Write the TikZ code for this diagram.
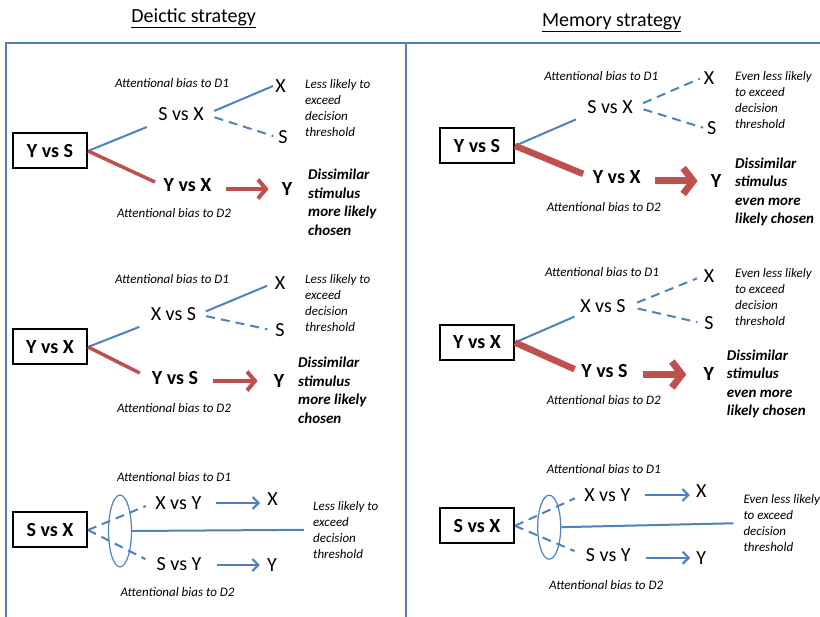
\documentclass[tikz,border=0pt]{standalone}
\usepackage{fontspec}
\setmainfont{Carlito}
\usetikzlibrary{arrows.meta}
\usetikzlibrary{positioning}
\usetikzlibrary{shapes.geometric}
\definecolor{lineblue}{RGB}{79,129,189}
\definecolor{linered}{RGB}{192,80,77}

\begin{document}
\begin{tikzpicture}[x=1pt,y=-1pt,every node/.style={inner sep=2pt}]
	\tikzstyle{box}=[draw,line width=2pt,minimum width=74pt,minimum height=35pt,font=\bfseries\fontsize{20}{24}\selectfont]
	\tikzstyle{pair}=[font=\fontsize{20}{24}\selectfont]
	\tikzstyle{bpair}=[font=\bfseries\fontsize{20}{24}\selectfont]
	\tikzstyle{bias}=[font=\itshape\fontsize{13}{16}\selectfont]
	\tikzstyle{note}=[anchor=north west,inner sep=0pt,align=left,font=\itshape\fontsize{13}{16}\selectfont]
	\tikzstyle{verdict}=[anchor=north west,inner sep=0pt,align=left,font=\bfseries\itshape\fontsize{15}{18.5}\selectfont]
	\tikzstyle{title}=[anchor=base,font=\fontsize{20}{24}\selectfont]
	\tikzstyle{lens}=[ellipse,draw=lineblue,line width=1.2pt,inner sep=0pt,minimum width=23pt]
	\tikzstyle{bline}=[draw=lineblue,line width=2pt]
	\tikzstyle{bdash}=[bline,dash pattern=on 9pt off 6pt]
	\tikzstyle{rline}=[draw=linered,line width=3.5pt]
	\tikzstyle{rthick}=[draw=linered,line width=6.5pt]
	\tikzstyle{rarrow}=[draw=linered,line width=4pt,-{Straight Barb[length=8pt,width=19pt]}]
	\tikzstyle{rbigarrow}=[draw=linered,line width=7pt,-{Straight Barb[length=10pt,width=26pt]}]
	\tikzstyle{barrow}=[bline,line width=2.2pt,-{Straight Barb[length=6pt,width=12pt]}]
	\tikzstyle{frame}=[draw=lineblue,line width=2.4pt]

	\useasboundingbox (0,0) rectangle (820,617);

	% titles and frame
	\node[title] (tD) at (193.7,22.7) {\underline{Deictic strategy}};
	\node[title] (tM) at (611.7,26.7) {\underline{Memory strategy}};
	\draw[frame] (820,43) -- (6,43) -- (6,625);
	\draw[frame] (406,43) -- (406,625);

	% deictic, Y vs S
	\node[box]     (aB)  at (50,151)     {Y vs S};
	\node[pair]    (aP1) at (181,114.5)  {S vs X};
	\node[bpair]   (aP2) at (187.5,185)  {Y vs X};
	\node[pair]    (aX)  at (280.5,86)   {X};
	\node[pair]    (aS)  at (283,137)    {S};
	\node[bpair]   (aY)  at (287,189)    {Y};
	\node[bias]    (aD1) at (172,83)     {Attentional bias to D1};
	\node[bias]    (aD2) at (174,213)    {Attentional bias to D2};
	\node[note]    (aN)  at (305,79)     {Less likely to\\exceed\\decision\\threshold};
	\node[verdict] (aV)  at (308,169)    {Dissimilar\\stimulus\\more likely\\chosen};
	\draw[bline,shorten >=10pt] (aB.east) -- (aP1.south west);
	\draw[rline,shorten >=7pt] (aB.east) -- (aP2.west);
	\draw[bline,shorten <=9pt] (aP1.east) -- (aX.west);
	\draw[bdash,shorten <=9pt,shorten >=3pt] (aP1.east) -- (aS.west);
	\draw[rarrow,shorten <=12pt,shorten >=11pt] (aP2.east |- aY) -- (aY.west);

	% deictic, Y vs X
	\node[box]     (bB)  at (50,347)     {Y vs X};
	\node[pair]    (bP1) at (173.5,314.5) {X vs S};
	\node[bpair]   (bP2) at (175,378)    {Y vs S};
	\node[pair]    (bX)  at (280,283.5)  {X};
	\node[pair]    (bS)  at (280,330.5)  {S};
	\node[bpair]   (bY)  at (279,381)    {Y};
	\node[bias]    (bD1) at (172,279)    {Attentional bias to D1};
	\node[bias]    (bD2) at (174,408)    {Attentional bias to D2};
	\node[note]    (bN)  at (305,274)    {Less likely to\\exceed\\decision\\threshold};
	\node[verdict] (bV)  at (298,357)    {Dissimilar\\stimulus\\more likely\\chosen};
	\draw[bline,shorten >=10pt] (bB.east) -- (bP1.south west);
	\draw[rline,shorten >=11pt] (bB.east) -- (bP2.west);
	\draw[bline,shorten <=8pt,shorten >=6pt] (bP1.east) -- (bX.west);
	\draw[bdash,shorten <=8pt,shorten >=6pt] (bP1.east) -- (bS.west);
	\draw[rarrow,shorten <=13pt,shorten >=14pt] (bP2.east |- bY) -- (bY.west);

	% deictic, S vs X
	\node[box]     (cB)  at (50,530)     {S vs X};
	\node[lens,minimum height=72pt] (cE) at (120,531) {};
	\node[pair]    (cP1) at (178.3,503)  {X vs Y};
	\node[pair]    (cP2) at (179,563.7)  {S vs Y};
	\node[pair]    (cX)  at (272.5,499)  {X};
	\node[pair]    (cY)  at (272,565)    {Y};
	\node[bias]    (cD1) at (174,477)    {Attentional bias to D1};
	\node[bias]    (cD2) at (177.5,591.7) {Attentional bias to D2};
	\node[note]    (cN)  at (313,501)    {Less likely to\\exceed\\decision\\threshold};
	\draw[bdash,shorten >=8pt] (cB.east) -- (cP1.west);
	\draw[bdash,shorten >=10pt] (cB.east) -- (cP2.west);
	\draw[bline,shorten >=9pt] (cE.east) -- (cN.west);
	\draw[barrow,shorten <=13pt,shorten >=5pt] (cP1.east) -- (cP1.east -| cX.west);
	\draw[barrow,shorten <=13pt,shorten >=5pt] (cY.west -| cP2.east) -- (cY.west);

	% memory, Y vs S
	\node[box]     (dB)  at (477,145.8)  {Y vs S};
	\node[pair]    (dP1) at (610,106.7)  {S vs X};
	\node[bpair]   (dP2) at (616.7,177)  {Y vs X};
	\node[pair]    (dX)  at (709,77.8)   {X};
	\node[pair]    (dS)  at (711.8,128.3) {S};
	\node[bpair]   (dY)  at (716,181)    {Y};
	\node[bias]    (dD1) at (601.3,76)   {Attentional bias to D1};
	\node[bias]    (dD2) at (603.8,206.7) {Attentional bias to D2};
	\node[note]    (dN)  at (735,71)     {Even less likely\\to exceed\\decision\\threshold};
	\node[verdict] (dV)  at (735,157.3)  {Dissimilar\\stimulus\\even more\\likely chosen};
	\draw[bline,shorten >=10pt] (dB.east) -- (dP1.south west);
	\draw[rthick,shorten >=8pt] (dB.east) -- (dP2.west);
	\draw[bdash,shorten <=9pt,shorten >=2pt] (dP1.east) -- (dX.west);
	\draw[bdash,shorten <=9pt,shorten >=2pt] (dP1.east) -- (dS.west);
	\draw[rbigarrow,shorten <=12pt,shorten >=11pt] (dP2.east |- dY) -- (dY.west);

	% memory, Y vs X
	\node[box]     (eB)  at (477,342.5)  {Y vs X};
	\node[pair]    (eP1) at (603,306.3)  {X vs S};
	\node[bpair]   (eP2) at (604.5,371.3) {Y vs S};
	\node[pair]    (eX)  at (709,276.5)  {X};
	\node[pair]    (eS)  at (709,323.3)  {S};
	\node[bpair]   (eY)  at (708.7,374.5) {Y};
	\node[bias]    (eD1) at (602,272.5)  {Attentional bias to D1};
	\node[bias]    (eD2) at (603.8,400)  {Attentional bias to D2};
	\node[note]    (eN)  at (735,268.3)  {Even less likely\\to exceed\\decision\\threshold};
	\node[verdict] (eV)  at (726.7,349.3) {Dissimilar\\stimulus\\even more\\likely chosen};
	\draw[bline,shorten >=4pt] (eB.east) -- (eP1.south west);
	\draw[rthick,shorten >=5pt] (eB.east) -- (eP2.west);
	\draw[bdash,shorten <=10pt,shorten >=5pt] (eP1.east) -- (eX.west);
	\draw[bdash,shorten <=10pt,shorten >=5pt] (eP1.east) -- (eS.west);
	\draw[rbigarrow,shorten <=13pt,shorten >=15pt] (eP2.east |- eY) -- (eY.west);

	% memory, S vs X
	\node[box]     (fB)  at (477,525.8)  {S vs X};
	\node[lens,minimum height=64pt] (fE) at (549.2,527.2) {};
	\node[pair]    (fP1) at (607.3,495)  {X vs Y};
	\node[pair]    (fP2) at (608.3,555)  {S vs Y};
	\node[pair]    (fX)  at (701.3,491.2) {X};
	\node[pair]    (fY)  at (701.3,557.8) {Y};
	\node[bias]    (fD1) at (603.8,469)  {Attentional bias to D1};
	\node[bias]    (fD2) at (606.2,584.7) {Attentional bias to D2};
	\node[note]    (fN)  at (743.3,494.3) {Even less likely\\to exceed\\decision\\threshold};
	\draw[bdash,shorten >=8pt] (fB.east) -- (fP1.west);
	\draw[bdash,shorten >=10pt] (fB.east) -- (fP2.west);
	\draw[bline,shorten >=10pt] (fE.east) -- (fN.west);
	\draw[barrow,shorten <=13pt,shorten >=4pt] (fP1.east) -- (fP1.east -| fX.west);
	\draw[barrow,shorten <=13pt,shorten >=4pt] (fY.west -| fP2.east) -- (fY.west);
\end{tikzpicture}
\end{document}
